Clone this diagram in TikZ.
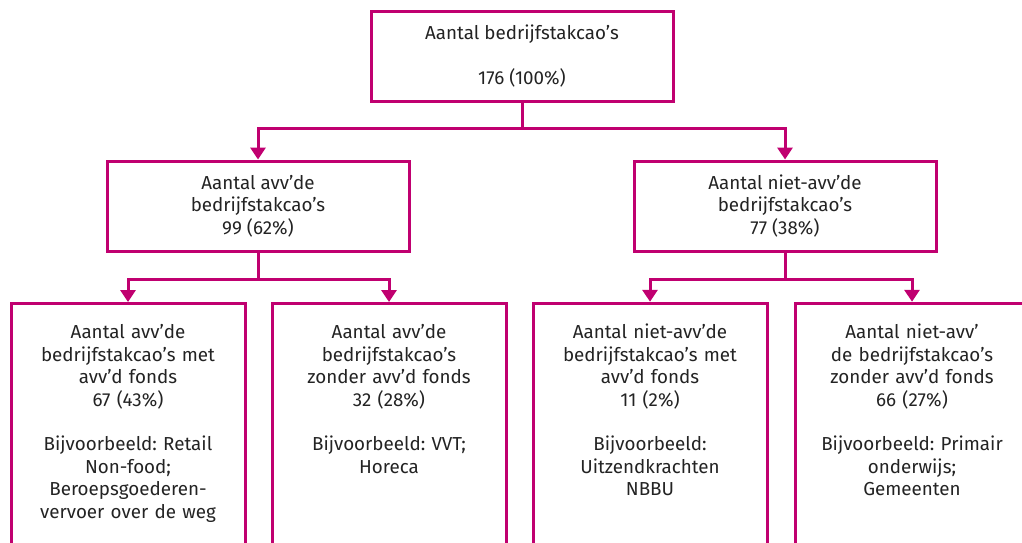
\documentclass[tikz,border=0pt]{standalone}
\usepackage{fontspec}
\setmainfont{Fira Sans}
\frenchspacing
\usetikzlibrary{positioning,arrows.meta}
\definecolor{cao}{RGB}{192,0,112}
\definecolor{txt}{RGB}{35,35,35}

\begin{document}
\begin{tikzpicture}[x=1pt, y=-1pt,
  every node/.style={font=\fontsize{18.8}{22.5}\selectfont, text=txt, align=center},
  box/.style={draw=cao, line width=3pt, minimum width=302pt, minimum height=90pt},
  leaf/.style={draw=cao, line width=3pt, anchor=north, minimum width=234pt, text width=228pt, inner xsep=1pt, inner ysep=21pt, text depth=220pt},
  link/.style={draw=cao, line width=3pt},
  arr/.style={link, -{Triangle[width=15pt,length=12pt]}}]

\useasboundingbox (0,0) rectangle (1022,542);
\clip (0,0) rectangle (1022,542);

\node[box] (tot) at (522,56) {Aantal bedrijfstakcao’s\\[22pt]176 (100\%)};

\node[box] (avv) at (258,206) {Aantal avv’de\\bedrijfstakcao’s\\99 (62\%)};
\node[box] (niet) at (785,206) {Aantal niet-avv’de\\bedrijfstakcao’s\\77 (38\%)};

\node[leaf] (avvmet) at (128,302) {Aantal avv’de\\bedrijfstakcao’s met\\avv’d fonds\\67 (43\%)\\[22pt]Bijvoorbeeld: Retail\\Non-food;\\Beroepsgoederen-\\vervoer over de weg};
\node[leaf, right=24pt of avvmet] (avvzonder) {Aantal avv’de\\bedrijfstakcao’s\\zonder avv’d fonds\\32 (28\%)\\[22pt]Bijvoorbeeld: VVT;\\Horeca};
\node[leaf, right=24pt of avvzonder] (nietmet) {Aantal niet-avv’de\\bedrijfstakcao’s met\\avv’d fonds\\11 (2\%)\\[22pt]Bijvoorbeeld:\\Uitzendkrachten\\NBBU};
\node[leaf, right=25pt of nietmet] (nietzonder) {Aantal niet-avv’\\de bedrijfstakcao’s\\zonder avv’d fonds\\66 (27\%)\\[22pt]Bijvoorbeeld: Primair\\onderwijs;\\Gemeenten};

\coordinate (j0) at (522,128);
\coordinate (j1) at (258,279);
\coordinate (j2) at (785,279);

\draw[link] (tot.south) -- (j0);
\draw[arr] (j0) -| (avv.north);
\draw[arr] (j0) -| (niet.north);

\draw[link] (avv.south) -- (j1);
\draw[arr] (j1) -| (avvmet.north);
\draw[arr] (j1) -| (avvzonder.north);

\draw[link] (niet.south) -- (j2);
\draw[arr] (j2) -| (nietmet.north);
\draw[arr] (j2) -| (nietzonder.north);

\end{tikzpicture}
\end{document}
